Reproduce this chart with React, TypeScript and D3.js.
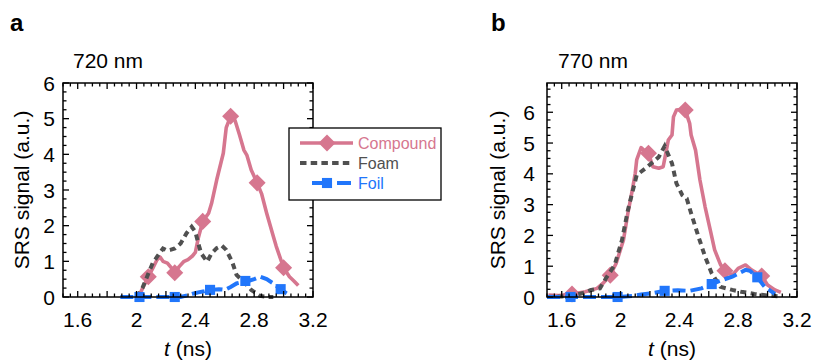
import React from "react";
import * as d3 from "d3";

type P = [number, number];

const X_TICK_LABELS = [1.6, 2, 2.4, 2.8, 3.2];
const SERIES_NAMES = ["Compound", "Foam", "Foil"];
const COLORS: Record<string, string> = { Compound: "#d6768f", Foam: "#505050", Foil: "#2176fb" };

const A_COMPOUND: P[] = [[2.01,0.05],[2.03,0.15],[2.06,0.4],[2.08,0.57],[2.11,0.8],[2.14,1.05],[2.16,1.12],[2.18,1.0],[2.21,0.95],[2.24,0.8],[2.26,0.68],[2.29,0.85],[2.32,0.99],[2.35,1.05],[2.38,1.15],[2.40,1.25],[2.42,1.65],[2.45,2.12],[2.49,2.35],[2.51,2.62],[2.545,3.28],[2.59,4.03],[2.61,4.75],[2.64,5.07],[2.67,4.95],[2.70,4.55],[2.73,4.12],[2.75,3.98],[2.78,3.56],[2.82,3.2],[2.85,2.9],[2.885,2.35],[2.93,1.7],[2.95,1.42],[3.0,0.82],[3.04,0.57],[3.07,0.45],[3.10,0.32]];
const A_COMPOUND_MARKERS: P[] = [[2.08,0.57],[2.26,0.68],[2.45,2.12],[2.64,5.07],[2.82,3.2],[3.0,0.82]];
const A_FOAM: P[] = [[2.0,0],[2.04,0.25],[2.08,0.65],[2.11,0.95],[2.14,1.13],[2.18,1.36],[2.21,1.3],[2.23,1.32],[2.26,1.36],[2.30,1.5],[2.34,1.79],[2.375,1.97],[2.40,1.83],[2.42,1.5],[2.44,1.22],[2.48,0.99],[2.51,1.22],[2.545,1.37],[2.58,1.44],[2.61,1.32],[2.65,0.99],[2.68,0.62],[2.74,0.38],[2.78,0.2],[2.84,0.03],[2.9,0.0],[2.93,0.0]];
const A_FOIL: P[] = [[1.89,0],[2.0,0],[2.1,0],[2.2,0],[2.3,0.0],[2.35,0.05],[2.39,0.1],[2.42,0.13],[2.46,0.16],[2.50,0.2],[2.56,0.22],[2.60,0.2],[2.64,0.28],[2.68,0.38],[2.72,0.42],[2.76,0.45],[2.80,0.5],[2.84,0.57],[2.885,0.5],[2.93,0.38],[2.98,0.22],[3.02,0.1],[3.04,0.05]];
const A_FOIL_MARKERS: P[] = [[2.02,0],[2.26,0],[2.50,0.2],[2.74,0.45],[2.98,0.22]];

const B_COMPOUND: P[] = [[1.51,0.06],[1.58,0.05],[1.67,0.1],[1.76,0.17],[1.84,0.28],[1.88,0.44],[1.93,0.71],[1.97,1.09],[2.02,1.85],[2.05,2.72],[2.08,3.47],[2.10,4.02],[2.11,4.45],[2.14,4.85],[2.17,4.72],[2.19,4.67],[2.22,4.23],[2.26,4.18],[2.29,4.23],[2.31,4.72],[2.325,5.1],[2.35,5.26],[2.36,5.85],[2.38,6.07],[2.42,6.1],[2.44,6.07],[2.47,5.64],[2.48,5.26],[2.51,4.77],[2.54,3.8],[2.575,2.93],[2.61,2.18],[2.64,1.53],[2.68,1.05],[2.71,0.85],[2.76,0.71],[2.80,0.93],[2.85,1.04],[2.89,0.88],[2.96,0.68],[3.0,0.39],[3.05,0.23],[3.09,0.15]];
const B_COMPOUND_MARKERS: P[] = [[1.67,0.1],[1.93,0.71],[2.19,4.67],[2.44,6.07],[2.71,0.85],[2.96,0.68]];
const B_FOAM: P[] = [[1.5,0],[1.6,0.02],[1.68,0.05],[1.74,0.12],[1.80,0.23],[1.86,0.28],[1.90,0.6],[1.96,1.04],[2.01,1.85],[2.05,2.82],[2.09,3.58],[2.11,3.96],[2.17,4.18],[2.21,4.34],[2.26,4.55],[2.30,4.9],[2.35,4.34],[2.38,3.69],[2.42,3.31],[2.45,3.2],[2.48,2.72],[2.53,1.96],[2.575,1.31],[2.62,0.77],[2.68,0.33],[2.76,0.23],[2.82,0.17],[2.91,0.1],[3.0,0.05],[3.09,0.02]];
const B_FOIL: P[] = [[1.5,0],[1.66,0],[1.8,0],[1.98,0],[2.08,0.03],[2.14,0.08],[2.22,0.13],[2.30,0.2],[2.39,0.22],[2.47,0.2],[2.55,0.28],[2.62,0.42],[2.69,0.55],[2.76,0.66],[2.85,0.88],[2.88,0.85],[2.93,0.64],[2.98,0.33],[3.02,0.2],[3.05,0.1]];
const B_FOIL_MARKERS: P[] = [[1.66,0],[1.98,0],[2.30,0.2],[2.62,0.42],[2.93,0.64]];

const FONT = "'Liberation Sans', Arial, Helvetica, sans-serif";
const FS = 21;
const DIAMOND_SIZE = 185;
const SQUARE_SIZE = 130;

type PanelProps = {
  left: number; right: number; top: number; bottom: number; yMax: number;
  yLabels: number[]; yLabelGap: number; yTitleX: number;
  letter: string; letterX: number; title: string; titleX: number;
  compound: P[]; compoundMarkers: P[]; foam: P[]; foil: P[]; foilMarkers: P[];
};

function Panel(p: PanelProps) {
  const x = d3.scaleLinear().domain([1.5, 3.2]).range([p.left, p.right]);
  const y = d3.scaleLinear().domain([0, p.yMax]).range([p.bottom, p.top]);
  const line = d3.line<P>().x(d => x(d[0])).y(d => y(d[1]));
  const xMinor = d3.range(30, 65).map(i => i * 0.05).filter(v => v >= 1.5 - 1e-9 && v <= 3.2 + 1e-9);
  const yMinor = d3.range(0, Math.floor(p.yMax / 0.25) + 1).map(i => i * 0.25);
  const isMajorX = (v: number) => Math.abs(v * 5 - Math.round(v * 5)) < 1e-6;
  const isMajorY = (v: number) => Math.abs(v - Math.round(v)) < 1e-6;
  const diamond = d3.symbol().type(d3.symbolDiamond2).size(DIAMOND_SIZE)();
  const square = d3.symbol().type(d3.symbolSquare2).size(SQUARE_SIZE)();
  const cx = (p.left + p.right) / 2;
  const cy = (p.top + p.bottom) / 2;
  return (
    <g fontFamily={FONT}>
      <text x={p.letterX} y={31} fontSize={24} fontWeight="bold">{p.letter}</text>
      <text x={p.titleX} y={68} fontSize={FS}>{p.title}</text>
      <g>
        <path d={line(p.compound) || ""} fill="none" stroke={COLORS.Compound} strokeWidth={3.6} strokeLinejoin="round" />
        {p.compoundMarkers.map((d, i) => (
          <path key={i} d={diamond || ""} transform={`translate(${x(d[0])},${y(d[1])})`} fill={COLORS.Compound} />
        ))}
        <path d={line(p.foam) || ""} fill="none" stroke={COLORS.Foam} strokeWidth={4} strokeDasharray="6,4.5" />
        <path d={line(p.foil) || ""} fill="none" stroke={COLORS.Foil} strokeWidth={4} strokeDasharray="13,5" />
        {p.foilMarkers.map((d, i) => (
          <path key={i} d={square || ""} transform={`translate(${x(d[0])},${y(d[1])})`} fill={COLORS.Foil} />
        ))}
      </g>
      <rect x={p.left} y={p.top} width={p.right - p.left} height={p.bottom - p.top} fill="none" stroke="#000" strokeWidth={1.5} />
      {xMinor.map((v, i) => {
        const len = isMajorX(v) ? 6 : 3.5;
        return (
          <g key={i} stroke="#000" strokeWidth={1.3}>
            <line x1={x(v)} x2={x(v)} y1={p.bottom} y2={p.bottom - len} />
            <line x1={x(v)} x2={x(v)} y1={p.top} y2={p.top + len} />
          </g>
        );
      })}
      {yMinor.map((v, i) => {
        const len = isMajorY(v) ? 6 : 3.5;
        return (
          <g key={i} stroke="#000" strokeWidth={1.3}>
            <line x1={p.left} x2={p.left + len} y1={y(v)} y2={y(v)} />
            <line x1={p.right} x2={p.right - len} y1={y(v)} y2={y(v)} />
          </g>
        );
      })}
      {X_TICK_LABELS.map((v, i) => (
        <text key={i} x={x(v)} y={327} fontSize={FS} textAnchor="middle">{String(+v.toFixed(1))}</text>
      ))}
      {p.yLabels.map((v, i) => (
        <text key={i} x={p.left - p.yLabelGap} y={y(v)} dy="0.36em" fontSize={FS} textAnchor="end">{v}</text>
      ))}
      <text x={cx} y={356} fontSize={FS} textAnchor="middle"><tspan fontStyle="italic">t</tspan> (ns)</text>
      <text transform={`translate(${p.yTitleX},${cy}) rotate(-90)`} dy="0.35em" fontSize={FS} textAnchor="middle">SRS signal (a.u.)</text>
    </g>
  );
}

function Legend() {
  const left = 289, top = 128, w = 152, h = 72;
  const rows = [143, 163, 183];
  const diamond = d3.symbol().type(d3.symbolDiamond2).size(DIAMOND_SIZE)();
  const square = d3.symbol().type(d3.symbolSquare2).size(SQUARE_SIZE)();
  return (
    <g fontFamily={FONT}>
      <rect x={left} y={top} width={w} height={h} fill="#fff" stroke="#000" strokeWidth={1.3} />
      {SERIES_NAMES.map((name, i) => {
        const yy = rows[i];
        return (
          <g key={name}>
            {name === "Compound" && (
              <g>
                <line x1={300} x2={353} y1={yy} y2={yy} stroke={COLORS.Compound} strokeWidth={3.6} />
                <path d={diamond || ""} transform={`translate(327,${yy})`} fill={COLORS.Compound} />
              </g>
            )}
            {name === "Foam" && (
              <line x1={300} x2={353} y1={yy} y2={yy} stroke={COLORS.Foam} strokeWidth={4} strokeDasharray="6.5,4.2" />
            )}
            {name === "Foil" && (
              <g>
                <line x1={312} x2={331} y1={yy} y2={yy} stroke={COLORS.Foil} strokeWidth={4} />
                <line x1={337} x2={351} y1={yy} y2={yy} stroke={COLORS.Foil} strokeWidth={4} />
                <path d={square || ""} transform={`translate(327,${yy})`} fill={COLORS.Foil} />
              </g>
            )}
            <text x={358} y={yy + 5.5} fontSize={16} fill={COLORS[name]}>{name}</text>
          </g>
        );
      })}
    </g>
  );
}

export default function App() {
  return (
    <svg width={813} height={361} style={{ position: "absolute", left: 0, top: 0, background: "#fff" }}>
      <Panel left={63} right={313} top={83} bottom={297} yMax={6} yLabels={[0,1,2,3,4,5,6]} yLabelGap={8} yTitleX={22}
        letter="a" letterX={10} title="720 nm" titleX={73}
        compound={A_COMPOUND} compoundMarkers={A_COMPOUND_MARKERS} foam={A_FOAM} foil={A_FOIL} foilMarkers={A_FOIL_MARKERS} />
      <Panel left={547} right={797} top={83} bottom={297} yMax={6.95} yLabels={[0,1,2,3,4,5,6]} yLabelGap={12} yTitleX={498}
        letter="b" letterX={491} title="770 nm" titleX={558}
        compound={B_COMPOUND} compoundMarkers={B_COMPOUND_MARKERS} foam={B_FOAM} foil={B_FOIL} foilMarkers={B_FOIL_MARKERS} />
      <Legend />
    </svg>
  );
}
